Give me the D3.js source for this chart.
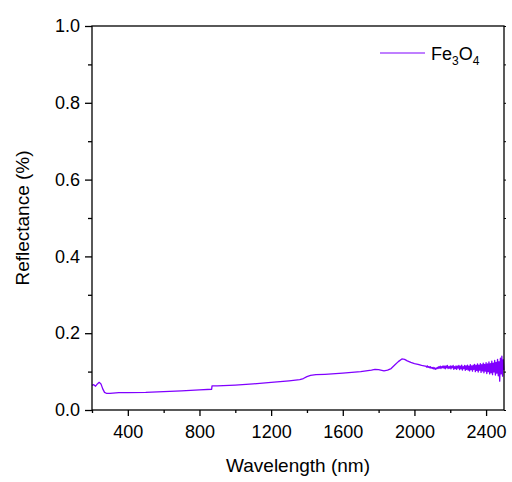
<!DOCTYPE html>
<html>
<head>
<meta charset="utf-8">
<script src="https://cdn.jsdelivr.net/npm/d3@7"></script>
<style>
  body { margin: 0; background: #fff; }
  text { font-family: Arial, "Liberation Sans", sans-serif; fill: #000; }
</style>
</head>
<body>
<svg id="chart" width="512" height="482"></svg>
<script>
// ---- data ----
const wavelengthMain = [200, 210, 220, 230, 240, 250, 260, 270, 280, 300, 350, 400, 500, 600, 700, 800, 868, 870, 900, 1000, 1100, 1200, 1300, 1360, 1380, 1400, 1420, 1450, 1500, 1600, 1700, 1760, 1780, 1800, 1830, 1850, 1870, 1890, 1910, 1930, 1945, 1960, 1980, 2000, 2020, 2040, 2060];
const reflectMain = [0.064, 0.066, 0.062, 0.068, 0.072, 0.068, 0.055, 0.046, 0.0435, 0.0435, 0.045, 0.0455, 0.046, 0.048, 0.050, 0.0525, 0.054, 0.063, 0.063, 0.065, 0.068, 0.072, 0.076, 0.079, 0.082, 0.087, 0.090, 0.092, 0.093, 0.096, 0.100, 0.104, 0.106, 0.105, 0.102, 0.104, 0.108, 0.117, 0.126, 0.133, 0.132, 0.128, 0.124, 0.121, 0.119, 0.116, 0.114];
// noisy tail, 2064..2500 nm every 4 nm
const tailStart = 2064, tailStep = 4;
const reflectTail = [
  0.114, 0.112, 0.115, 0.111, 0.113, 0.110, 0.113, 0.109, 0.111, 0.108,
  0.111, 0.107, 0.110, 0.106, 0.109, 0.107, 0.111, 0.108, 0.113, 0.109,
  0.114, 0.108, 0.113, 0.110, 0.115, 0.109, 0.114, 0.107, 0.115, 0.110,
  0.116, 0.108, 0.113, 0.109, 0.115, 0.107, 0.114, 0.110, 0.116, 0.106,
  0.113, 0.108, 0.115, 0.106, 0.114, 0.109, 0.116, 0.105, 0.114, 0.107,
  0.117, 0.104, 0.113, 0.108, 0.116, 0.103, 0.115, 0.106, 0.117, 0.104,
  0.114, 0.102, 0.118, 0.105, 0.115, 0.101, 0.117, 0.106, 0.119, 0.100,
  0.116, 0.103, 0.120, 0.099, 0.117, 0.104, 0.121, 0.098, 0.118, 0.102,
  0.122, 0.097, 0.119, 0.101, 0.123, 0.095, 0.120, 0.100, 0.125, 0.094,
  0.121, 0.097, 0.127, 0.092, 0.122, 0.099, 0.129, 0.091, 0.124, 0.096,
  0.132, 0.089, 0.126, 0.075, 0.135, 0.094, 0.140, 0.088, 0.131, 0.104];
const xTicks = [400, 800, 1200, 1600, 2000, 2400];
const xMinorTicks = [200, 600, 1000, 1400, 1800, 2200];
const yTicks = [0.0, 0.2, 0.4, 0.6, 0.8, 1.0];
const yMinorTicks = [0.1, 0.3, 0.5, 0.7, 0.9];

// ---- build series ----
const series = wavelengthMain.map((w, i) => ({ w, r: reflectMain[i] }));
reflectTail.forEach((r, i) => series.push({ w: tailStart + i * tailStep, r }));

const svg = d3.select("#chart");
const L = 92, R = 504, T = 26, B = 410;
const x = d3.scaleLinear().domain([200, 2500]).range([L, R]);
const y = d3.scaleLinear().domain([0, 1]).range([B, T]);
const color = "#8000ff";
const FONT = "Arial, 'Liberation Sans', sans-serif";

// line
svg.append("path")
  .datum(series)
  .attr("fill", "none")
  .attr("stroke", color)
  .attr("stroke-width", 1.3)
  .attr("stroke-linejoin", "round")
  .attr("d", d3.line().x(d => x(d.w)).y(d => y(d.r)));

// frame
svg.append("rect").attr("x", L).attr("y", T).attr("width", R - L).attr("height", B - T)
  .attr("fill", "none").attr("stroke", "#000").attr("stroke-width", 1.3);

// bottom axis
const gx = svg.append("g").attr("transform", `translate(0,${B})`);
gx.call(d3.axisBottom(x).tickValues(xTicks).tickSize(6).tickSizeOuter(0).tickFormat(d3.format("d")));
gx.select(".domain").remove();
gx.selectAll(".tick line").attr("stroke-width", 1.3);
gx.selectAll(".tick text").attr("font-size", 18).attr("font-family", FONT).attr("dy", "1.05em");
const gxm = svg.append("g").attr("transform", `translate(0,${B})`);
gxm.call(d3.axisBottom(x).tickValues(xMinorTicks).tickSize(3).tickFormat(""));
gxm.select(".domain").remove();
gxm.selectAll(".tick line").attr("stroke-width", 1.3);

// left axis
const gy = svg.append("g").attr("transform", `translate(${L},0)`);
gy.call(d3.axisLeft(y).tickValues(yTicks).tickSize(7).tickSizeOuter(0).tickFormat(d3.format(".1f")));
gy.select(".domain").remove();
gy.selectAll(".tick line").attr("stroke-width", 1.3);
gy.selectAll(".tick text").attr("font-size", 18).attr("font-family", FONT).attr("x", -12);
const gym = svg.append("g").attr("transform", `translate(${L},0)`);
gym.call(d3.axisLeft(y).tickValues(yMinorTicks).tickSize(4).tickFormat(""));
gym.select(".domain").remove();
gym.selectAll(".tick line").attr("stroke-width", 1.3);

// right axis small ticks
const gr = svg.append("g").attr("transform", `translate(${R},0)`);
gr.call(d3.axisRight(y).tickValues(yTicks.concat(yMinorTicks)).tickSize(2).tickFormat(""));
gr.select(".domain").remove();

// axis titles
svg.append("text").attr("x", (L + R) / 2).attr("y", 472).attr("text-anchor", "middle")
  .attr("font-size", 19).text("Wavelength (nm)");
svg.append("text").attr("transform", `translate(29,${(T + B) / 2}) rotate(-90)`).attr("text-anchor", "middle")
  .attr("font-size", 19).text("Reflectance (%)");

// legend
svg.append("line").attr("x1", 380).attr("x2", 425).attr("y1", 53).attr("y2", 53)
  .attr("stroke", color).attr("stroke-width", 1.2);
const lt = svg.append("text").attr("x", 431).attr("y", 60).attr("font-size", 18);
lt.append("tspan").text("Fe");
lt.append("tspan").attr("font-size", 12).attr("dy", 5).text("3");
lt.append("tspan").attr("dy", -5).text("O");
lt.append("tspan").attr("font-size", 12).attr("dy", 5).text("4");
</script>
</body>
</html>
